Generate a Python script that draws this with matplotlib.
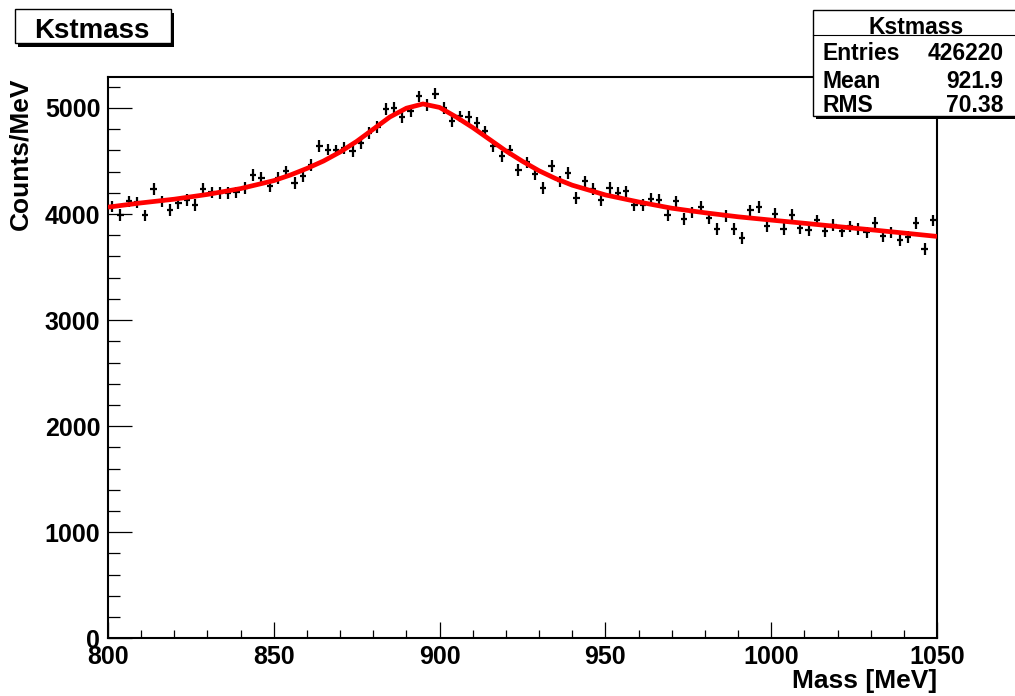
import numpy as np
import matplotlib.pyplot as plt
from matplotlib.patches import Rectangle
from matplotlib.ticker import MultipleLocator

plt.rcParams['font.family'] = ['Liberation Sans', 'DejaVu Sans']
plt.rcParams['font.weight'] = 'bold'

# histogram: 100 bins of 2.5 MeV between 800 and 1050
bin_lo, bin_hi, n_bins = 800, 1050, 100
counts = [4072, 3993, 4119, 4110, 3987, 4236, 4119, 4041, 4104, 4135,
          4088, 4236, 4204, 4198, 4198, 4204, 4245, 4371, 4340, 4267,
          4340, 4402, 4292, 4355, 4465, 4644, 4607, 4600, 4623, 4591,
          4670, 4764, 4821, 4991, 5000, 4915, 4968, 5109, 5031, 5135,
          5000, 4874, 4921, 4915, 4858, 4779, 4638, 4543, 4600, 4415,
          4487, 4380, 4245, 4456, 4308, 4387, 4151, 4308, 4236, 4135,
          4245, 4198, 4213, 4088, 4088, 4141, 4135, 3993, 4119, 3953,
          4015, 4066, 3962, 3860, 3984, 3858, 3774, 4034, 4066, 3883,
          4003, 3858, 3993, 3868, 3846, 3940, 3836, 3899, 3836, 3883,
          3858, 3827, 3915, 3795, 3827, 3758, 3783, 3915, 3670, 3940]
err = 55  # approx. vertical error bar, counts/MeV

# fitted curve
fit_mass = [800, 810, 820, 830, 840, 850, 855, 860, 865, 870, 875, 880,
            885, 890, 895, 900, 905, 910, 915, 920, 925, 930, 935, 940,
            950, 960, 970, 980, 990, 1000, 1010, 1020, 1030, 1040, 1050]
fit_vals = [4065, 4105, 4140, 4185, 4240, 4315, 4368, 4430, 4500, 4585,
            4685, 4800, 4915, 4998, 5038, 5005, 4915, 4815, 4705, 4595,
            4497, 4408, 4334, 4272, 4180, 4114, 4055, 4012, 3974, 3943,
            3913, 3882, 3852, 3821, 3789]

stats_name = 'Kstmass'
stats_rows = [('Entries', '426220'), ('Mean', '921.9'), ('RMS', '70.38')]

W, H = 1015, 696
fig = plt.figure(figsize=(W / 100, H / 100), dpi=100)
ax = fig.add_axes([108 / W, 1 - 638.3 / H, (937 - 108) / W, (638.3 - 77) / H])

bw = (bin_hi - bin_lo) / n_bins
centers = bin_lo + (np.arange(n_bins) + 0.5) * bw
ax.errorbar(centers, counts, yerr=err, xerr=0.95, fmt='none',
            ecolor='black', elinewidth=1.6, capsize=0, zorder=2)
ax.plot(fit_mass, fit_vals, color='red', lw=3.4, zorder=3,
        solid_joinstyle='round', solid_capstyle='butt')

ax.set_xlim(bin_lo, bin_hi)
ax.set_ylim(0, 5292)
ax.xaxis.set_major_locator(MultipleLocator(50))
ax.xaxis.set_minor_locator(MultipleLocator(10))
ax.yaxis.set_major_locator(MultipleLocator(1000))
ax.yaxis.set_minor_locator(MultipleLocator(200))
ax.tick_params(axis='both', which='both', direction='in', top=False,
               right=False, width=0.9, labelsize=18, colors='black')
ax.tick_params(axis='x', which='major', length=11.5, pad=5)
ax.tick_params(axis='x', which='minor', length=5.8)
ax.tick_params(axis='y', which='major', length=17.3, pad=5.5)
ax.tick_params(axis='y', which='minor', length=8.6)
for lab in ax.get_xticklabels() + ax.get_yticklabels():
    lab.set_fontweight('bold')
for sp in ax.spines.values():
    sp.set_linewidth(1.5)

# overlay in pixel coordinates for the boxes and titles
ov = fig.add_axes([0, 0, 1, 1], zorder=10)
ov.set_xlim(0, W)
ov.set_ylim(H, 0)
ov.axis('off')
ov.patch.set_alpha(0)

# title box
ov.add_patch(Rectangle((18, 12.5), 156, 34, facecolor='black', lw=0))
ov.add_patch(Rectangle((15, 9.3), 156, 34, facecolor='white',
                       edgecolor='black', lw=1))
ov.text(92, 38.3, stats_name, fontsize=20, ha='center', va='baseline')

# stats box
ov.add_patch(Rectangle((816, 13), 210, 105.5, facecolor='black', lw=0))
ov.add_patch(Rectangle((813, 10), 210, 105.5, facecolor='white',
                       edgecolor='black', lw=1))
ov.plot([813, 1020], [35, 35], color='black', lw=0.8)
ov.text(916.5, 33.5, stats_name, fontsize=16.5, ha='center', va='baseline')
for (lab, val), yb in zip(stats_rows, [60.5, 87.5, 111.5]):
    ov.text(822.5, yb, lab, fontsize=16.5, ha='left', va='baseline')
    ov.text(1003.5, yb, val, fontsize=16.5, ha='right', va='baseline')

# axis titles
ov.text(937, 688, 'Mass [MeV]', fontsize=19, ha='right', va='baseline')
ov.text(20, 78, 'Counts/MeV', fontsize=19, rotation=90, ha='center',
        va='top')

fig.savefig('out.png', dpi=100)
